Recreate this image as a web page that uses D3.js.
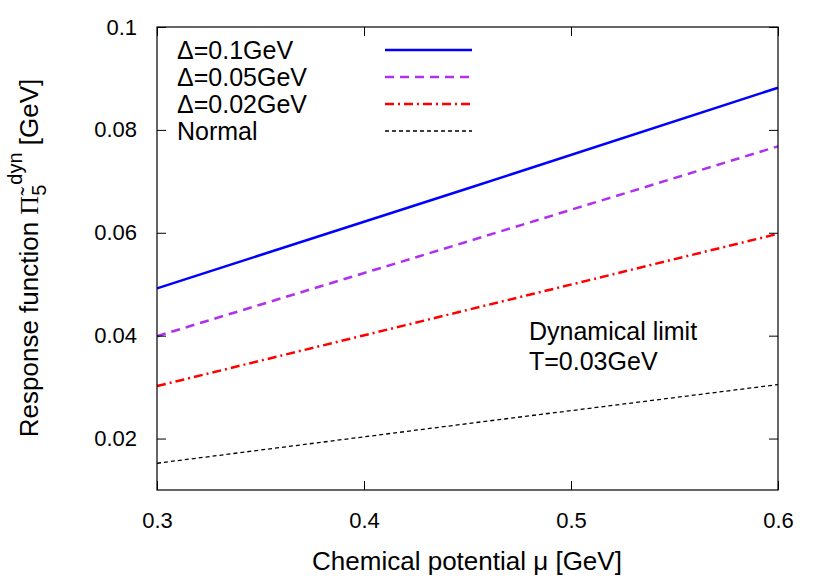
<!DOCTYPE html>
<html><head><meta charset="utf-8">
<script src="https://cdn.jsdelivr.net/npm/d3@7"></script>
<style>body{margin:0;background:#fff}text{font-family:"Liberation Sans",Arial,sans-serif}</style>
</head><body><svg id="chart" width="830" height="581"></svg>
<script>
// mu values (GeV) and response function per gap
const mu = [0.3, 0.45, 0.6];
const delta01 = [0.0492, 0.0686, 0.0882];
const delta005 = [0.0399, 0.0583, 0.0768];
const delta002 = [0.0302, 0.0450, 0.0598];
const normal = [0.0152, 0.0229, 0.0305];
const xTicks = [0.3, 0.4, 0.5, 0.6];
const yTicks = [0.02, 0.04, 0.06, 0.08, 0.1];

const series = [
  { label: "\u0394=0.1GeV", vals: delta01, color: "#0000ff", dash: null, w: 2.5 },
  { label: "\u0394=0.05GeV", vals: delta005, color: "#b030f0", dash: "9,6", w: 2.5 },
  { label: "\u0394=0.02GeV", vals: delta002, color: "#ff0000", dash: "9,4,2,4", w: 2.5 },
  { label: "Normal", vals: normal, color: "#000000", dash: "4,3", w: 1.3 },
];

const svg = d3.select("#chart");
const m = { left: 157, right: 778, top: 27, bottom: 490 };
const x = d3.scaleLinear().domain([0.3, 0.6]).range([m.left, m.right]);
const y = d3.scaleLinear().domain([0.01, 0.1]).range([m.bottom, m.top]);

const line = d3.line().x((d) => x(d[0])).y((d) => y(d[1]));
series.forEach((s) => {
  svg.append("path")
    .datum(mu.map((v, i) => [v, s.vals[i]]))
    .attr("d", line)
    .attr("fill", "none")
    .attr("stroke", s.color)
    .attr("stroke-width", s.w)
    .attr("stroke-dasharray", s.dash);
});

// axes with inward ticks on all sides
const ax = (g, a) => g.call(a).call((g) => g.select(".domain").remove())
  .call((g) => g.selectAll("text").attr("font-size", 22).attr("fill", "#000").style("font-family", "Liberation Sans, Arial, sans-serif"));
svg.append("g").attr("transform", `translate(0,${m.bottom})`)
  .call((g) => ax(g, d3.axisBottom(x).tickValues(xTicks).tickSize(-9).tickPadding(22).tickFormat(d3.format(".1f"))));
svg.append("g").attr("transform", `translate(0,${m.top})`)
  .call((g) => ax(g, d3.axisTop(x).tickValues(xTicks).tickSize(-9).tickFormat("")));
svg.append("g").attr("transform", `translate(${m.left},0)`)
  .call((g) => ax(g, d3.axisLeft(y).tickValues(yTicks).tickSize(-9).tickPadding(20).tickFormat((d) => d === 0.1 ? "0.1" : d3.format(".2f")(d))));
svg.append("g").attr("transform", `translate(${m.right},0)`)
  .call((g) => ax(g, d3.axisRight(y).tickValues(yTicks).tickSize(-9).tickFormat("")));
svg.selectAll(".tick line").attr("stroke", "#000");
svg.append("rect").attr("x", m.left).attr("y", m.top)
  .attr("width", m.right - m.left).attr("height", m.bottom - m.top)
  .attr("fill", "none").attr("stroke", "#000").attr("stroke-width", 1.2);

// legend
series.forEach((s, i) => {
  const yy = 50 + i * 27;
  svg.append("text").attr("x", 177).attr("y", yy + 9).attr("font-size", 25).text(s.label);
  svg.append("line").attr("x1", 385).attr("x2", 472).attr("y1", yy).attr("y2", yy)
    .attr("stroke", s.color).attr("stroke-width", s.w).attr("stroke-dasharray", s.dash);
});

svg.append("text").attr("x", 529).attr("y", 340).attr("font-size", 25).text("Dynamical limit");
svg.append("text").attr("x", 529).attr("y", 370).attr("font-size", 25).text("T=0.03GeV");

svg.append("text").attr("x", 467).attr("y", 570).attr("text-anchor", "middle").attr("font-size", 26)
  .text("Chemical potential \u03bc [GeV]");

const yl = svg.append("text").attr("transform", "translate(38,258) rotate(-90)")
  .attr("text-anchor", "middle").attr("font-size", 26);
yl.append("tspan").text("Response function ");
yl.append("tspan").style("font-family", "Liberation Serif, serif").text("\u03a0\u0303");
yl.append("tspan").attr("font-size", 20).attr("dy", 8).text("5");
yl.append("tspan").attr("font-size", 20).attr("dy", -24).text("dyn");
yl.append("tspan").attr("dy", 16).text(" [GeV]");
</script></body></html>
